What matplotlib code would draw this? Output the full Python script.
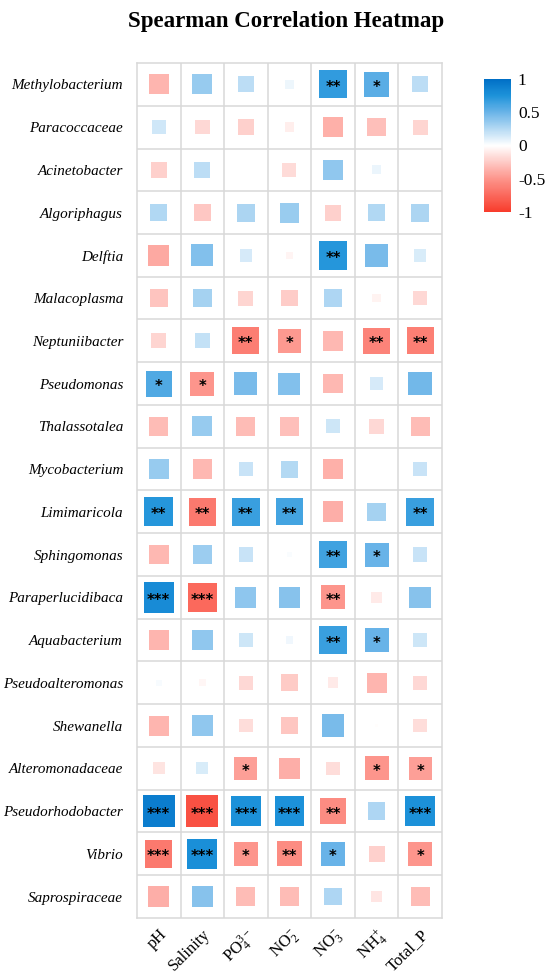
import numpy as np
import matplotlib
matplotlib.use("Agg")
import matplotlib.pyplot as plt
from matplotlib.colors import LinearSegmentedColormap, Normalize

plt.rcParams['font.family'] = ['Liberation Serif', 'DejaVu Serif']

taxa = ["Methylobacterium", "Paracoccaceae", "Acinetobacter", "Algoriphagus",
        "Delftia", "Malacoplasma", "Neptuniibacter", "Pseudomonas",
        "Thalassotalea", "Mycobacterium", "Limimaricola", "Sphingomonas",
        "Paraperlucidibaca", "Aquabacterium", "Pseudoalteromonas",
        "Shewanella", "Alteromonadaceae", "Pseudorhodobacter", "Vibrio",
        "Saprospiraceae"]
factors = [r"pH", r"Salinity", r"$\mathregular{PO_4^{3-}}$",
           r"$\mathregular{NO_2^{-}}$", r"$\mathregular{NO_3^{-}}$",
           r"$\mathregular{NH_4^{+}}$", r"Total_P"]

# spearman r, columns: pH, Salinity, PO4, NO2, NO3, NH4, Total_P
rho = np.array([
    [-0.35, 0.35, 0.22, 0.06, 0.68, 0.55, 0.22],
    [0.16, -0.18, -0.22, -0.08, -0.37, -0.30, -0.20],
    [-0.22, 0.22, 0.00, -0.17, 0.37, 0.07, 0.00],
    [0.26, -0.26, 0.28, 0.34, -0.22, 0.26, 0.28],
    [-0.40, 0.42, 0.14, -0.05, 0.72, 0.45, 0.13],
    [-0.28, 0.30, -0.20, -0.24, 0.27, -0.06, -0.18],
    [-0.20, 0.20, -0.63, -0.48, -0.33, -0.60, -0.62],
    [0.58, -0.50, 0.45, 0.42, -0.33, 0.14, 0.47],
    [-0.32, 0.35, -0.32, -0.30, 0.17, -0.18, -0.32],
    [0.35, -0.33, 0.18, 0.25, -0.37, 0.00, 0.18],
    [0.72, -0.65, 0.66, 0.62, -0.38, 0.30, 0.66],
    [-0.33, 0.33, 0.18, 0.02, 0.64, 0.50, 0.18],
    [0.80, -0.75, 0.38, 0.40, -0.50, -0.10, 0.40],
    [-0.35, 0.37, 0.17, 0.05, 0.66, 0.50, 0.17],
    [0.03, -0.04, -0.18, -0.25, -0.10, -0.35, -0.18],
    [-0.35, 0.37, -0.16, -0.27, 0.45, -0.01, -0.16],
    [-0.13, 0.13, -0.45, -0.38, -0.16, -0.50, -0.45],
    [0.90, -0.88, 0.76, 0.76, -0.55, 0.27, 0.76],
    [-0.65, 0.78, -0.50, -0.55, 0.50, -0.22, -0.50],
    [-0.38, 0.40, -0.32, -0.32, 0.27, -0.12, -0.32],
])

stars = [
    ["", "", "", "", "**", "*", ""],
    ["", "", "", "", "", "", ""],
    ["", "", "", "", "", "", ""],
    ["", "", "", "", "", "", ""],
    ["", "", "", "", "**", "", ""],
    ["", "", "", "", "", "", ""],
    ["", "", "**", "*", "", "**", "**"],
    ["*", "*", "", "", "", "", ""],
    ["", "", "", "", "", "", ""],
    ["", "", "", "", "", "", ""],
    ["**", "**", "**", "**", "", "", "**"],
    ["", "", "", "", "**", "*", ""],
    ["***", "***", "", "", "**", "", ""],
    ["", "", "", "", "**", "*", ""],
    ["", "", "", "", "", "", ""],
    ["", "", "", "", "", "", ""],
    ["", "", "*", "", "", "*", "*"],
    ["***", "***", "***", "***", "**", "", "***"],
    ["***", "***", "*", "**", "*", "", "*"],
    ["", "", "", "", "", "", ""],
]

cmap = LinearSegmentedColormap.from_list(
    "rwb", [(0.0, "#F83C2C"), (0.25, "#FD958C"), (0.5, "#FFFFFF"),
            (0.75, "#6AB4E8"), (0.875, "#1E93DA"), (1.0, "#006FC6")])
norm = Normalize(-1, 1)

fig = plt.figure(figsize=(5.5, 9.8), dpi=100)
ax = fig.add_axes([0.249, 0.0633, 0.5545, 0.8724])

n_rows, n_cols = rho.shape
xx, yy = np.meshgrid(np.arange(n_cols), np.arange(n_rows))

# cell size in points, square side grows with sqrt(|r|)
cell_pt = 43.6 * 72 / 100
side = 0.78 * cell_pt * np.sqrt(np.abs(rho))
ax.scatter(xx.ravel(), yy.ravel(), s=(side ** 2).ravel(), marker="s",
           c=rho.ravel(), cmap=cmap, norm=norm, linewidths=0, zorder=3)

for i in range(n_rows):
    for j in range(n_cols):
        if stars[i][j]:
            ax.text(j, i + 0.07, stars[i][j], ha="center", va="center",
                    fontsize=10.5, family="DejaVu Sans", fontweight="bold",
                    color="black", zorder=4)

ax.set_xlim(-0.5, n_cols - 0.5)
ax.set_ylim(n_rows - 0.5, -0.5)
ax.set_xticks(np.arange(n_cols - 1) + 0.5, minor=True)
ax.set_yticks(np.arange(n_rows - 1) + 0.5, minor=True)
ax.grid(which="minor", color="#D9D9D9", linewidth=1.1)
ax.tick_params(which="both", length=0)
ax.set_xticks(np.arange(n_cols))
ax.set_xticklabels(factors, rotation=45, ha="right", rotation_mode="anchor",
                   fontsize=12)
ax.set_yticks(np.arange(n_rows))
ax.set_yticklabels(taxa, fontsize=10.9, style="italic")
ax.tick_params(axis="y", pad=10)
ax.tick_params(axis="x", pad=6)
for sp in ax.spines.values():
    sp.set_color("#D9D9D9")
    sp.set_linewidth(1.1)

fig.text(0.52, 0.978, "Spearman Correlation Heatmap", ha="center",
         va="center", fontsize=16.5, fontweight="bold")

cax = fig.add_axes([0.88, 0.7837, 0.049, 0.1357])
sm = plt.cm.ScalarMappable(norm=norm, cmap=cmap)
cb = fig.colorbar(sm, cax=cax, ticks=[1, 0.5, 0, -0.5, -1])
cb.ax.set_yticklabels(["1", "0.5", "0", "-0.5", "-1"], fontsize=12.5)
cb.ax.tick_params(length=0, pad=5)
cb.outline.set_visible(False)

fig.savefig("out.png", dpi=100)
